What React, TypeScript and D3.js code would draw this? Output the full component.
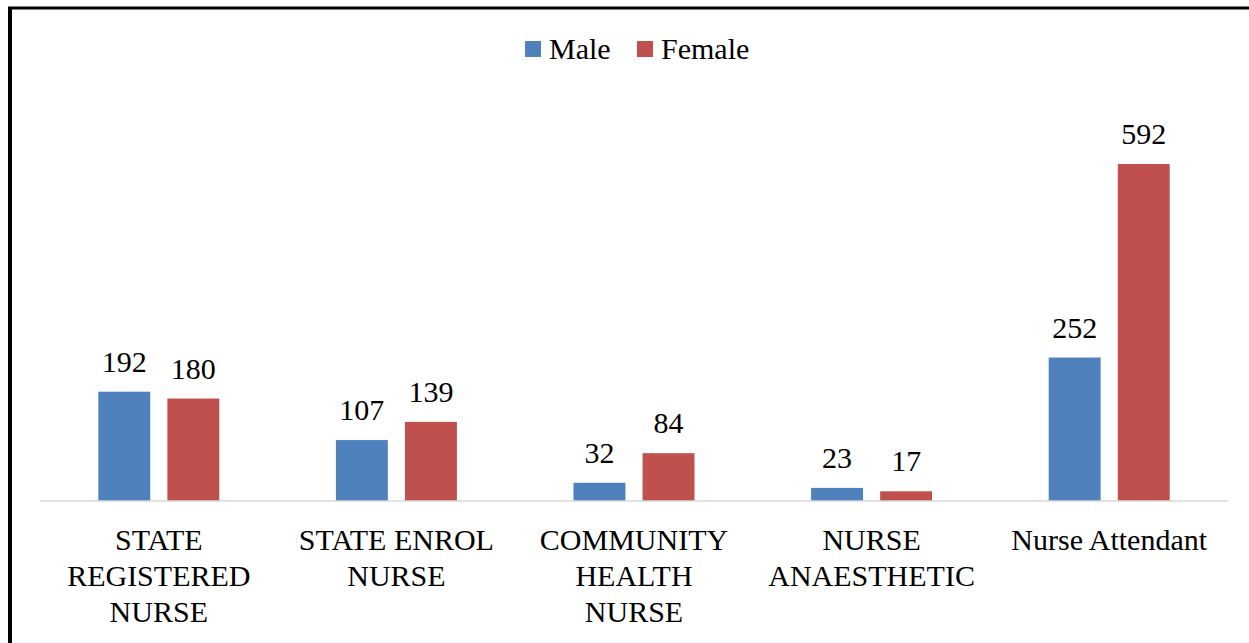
import React from "react";
import * as d3 from "d3";

const categories: string[][] = [
  ["STATE", "REGISTERED", "NURSE"],
  ["STATE ENROL", "NURSE"],
  ["COMMUNITY", "HEALTH", "NURSE"],
  ["NURSE", "ANAESTHETIC"],
  ["Nurse Attendant"],
];
const seriesNames = ["Male", "Female"];
const maleValues = [192, 107, 32, 23, 252];
const femaleValues = [180, 139, 84, 17, 592];
const colors = ["#4F81BD", "#C0504D"];

const W = 1249;
const H = 643;
const textStyle: React.CSSProperties = {
  fontFamily: '"Liberation Serif", "DejaVu Serif", serif',
  fontSize: "30px",
};

export default function App() {
  const left = 40;
  const right = 1228;
  const baseY = 501;
  const x0 = d3
    .scaleBand<number>()
    .domain(d3.range(categories.length))
    .range([left, right])
    .paddingInner(0)
    .paddingOuter(0);
  const bw = x0.bandwidth();
  const groupW = 121;
  const x1 = d3
    .scaleBand<number>()
    .domain([0, 1])
    .range([(bw - groupW) / 2, (bw + groupW) / 2])
    .paddingInner(15 / 60.5)
    .paddingOuter(0);
  const y = d3.scaleLinear().domain([0, 700]).range([baseY, 102.5]);
  const series = [maleValues, femaleValues];

  return (
    <svg
      width={W}
      height={H}
      style={{ position: "absolute", left: 0, top: 0, background: "#fff" }}
    >
      <rect x={0} y={0} width={W} height={H} fill="#fff" />
      <line x1={8} y1={8} x2={W} y2={8} stroke="#000" strokeWidth={3} />
      <line x1={10} y1={7} x2={10} y2={H} stroke="#000" strokeWidth={4} />
      {categories.map((cat, i) =>
        series.map((vals, s) => {
          const bx = (x0(i) as number) + (x1(s) as number);
          const v = vals[i];
          return (
            <g key={`${i}-${s}`}>
              <rect
                x={bx}
                y={y(v)}
                width={x1.bandwidth()}
                height={baseY - y(v)}
                fill={colors[s]}
              />
              <text
                x={bx + x1.bandwidth() / 2}
                y={y(v) - 20}
                textAnchor="middle"
                style={textStyle}
                fill="#000"
              >
                {v}
              </text>
            </g>
          );
        })
      )}
      <line x1={left} y1={baseY} x2={right} y2={baseY} stroke="#D9D9D9" strokeWidth={1.5} />
      {categories.map((lines, i) => (
        <text
          key={i}
          x={(x0(i) as number) + bw / 2}
          y={550}
          textAnchor="middle"
          style={textStyle}
          fill="#000"
        >
          {lines.map((l, j) => (
            <tspan key={j} x={(x0(i) as number) + bw / 2} dy={j === 0 ? 0 : 36}>
              {l}
            </tspan>
          ))}
        </text>
      ))}
      <g>
        {seriesNames.map((n, s) => {
          const lx = s === 0 ? 525 : 637;
          return (
            <g key={n}>
              <rect x={lx} y={41} width={16} height={16} fill={colors[s]} />
              <text x={lx + 24} y={59} style={textStyle} fill="#000">
                {n}
              </text>
            </g>
          );
        })}
      </g>
    </svg>
  );
}
